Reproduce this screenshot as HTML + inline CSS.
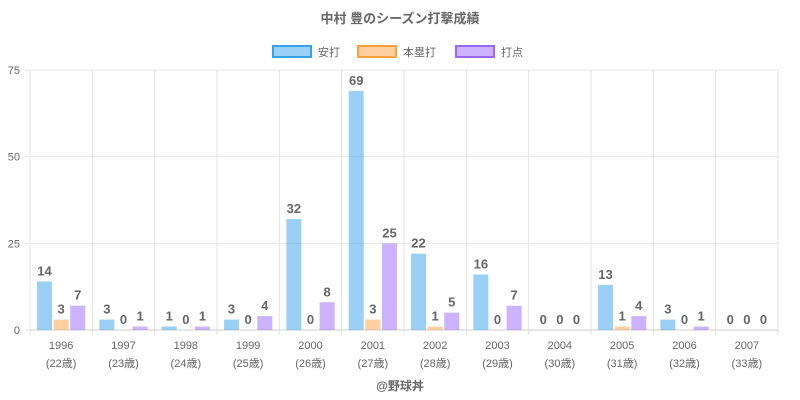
<!DOCTYPE html>
<html><head><meta charset="utf-8"><style>
body{margin:0;background:#fff;}
svg{display:block;font-family:"Liberation Sans","Noto Sans CJK JP",sans-serif;}
</style></head><body>
<svg id="c" width="800" height="400" xmlns="http://www.w3.org/2000/svg"></svg>
<script>
const s=document.getElementById('c');
let h='';
h+='<text x="400" y="23" text-anchor="middle" font-size="13" font-weight="bold" fill="#666">中村 豊のシーズン打撃成績</text>';
const leg=[['安打','rgba(54,162,235,0.5)','rgb(54,162,235)',272],['本塁打','rgba(255,159,64,0.5)','rgb(255,159,64)',357],['打点','rgba(153,102,255,0.5)','rgb(153,102,255)',455]];
leg.forEach(l=>{h+=`<rect x="${l[3]+1}" y="46" width="38" height="11" fill="${l[1]}" stroke="${l[2]}" stroke-width="2"/><text x="${l[3]+46}" y="56" font-size="11" fill="#666">${l[0]}</text>`;});
const L=30,R=778,T=70,B=330,n=12,w=(R-L)/n,u=(B-T)/75;
for(let i=0;i<=3;i++){const y=B-i*25*u;h+=`<line x1="${L-5}" x2="${R}" y1="${y}" y2="${y}" stroke="#e5e5e5"/><text x="${L-10}" y="${y+4}" text-anchor="end" font-size="11" fill="#666">${i*25}</text>`;}
for(let i=0;i<=n;i++){const x=L+i*w;h+=`<line x1="${x}" x2="${x}" y1="${T}" y2="${B+5}" stroke="#e5e5e5"/>`;}
h+=`<line x1="${L}" x2="${R}" y1="${B}" y2="${B}" stroke="#ccc"/>`;
const d=[[14,3,7],[3,0,1],[1,0,1],[3,0,4],[32,0,8],[69,3,25],[22,1,5],[16,0,7],[0,0,0],[13,1,4],[3,0,1],[0,0,0]];
const cols=['rgba(54,162,235,0.5)','rgba(255,159,64,0.5)','rgba(153,102,255,0.5)'];
for(let i=0;i<n;i++){
 const x0=L+i*w, cw=w*0.8/3;
 for(let j=0;j<3;j++){
  const cx=x0+w*0.1+cw*(j+0.5), bw=cw*0.9, v=d[i][j], bh=v*u;
  if(v>0)h+=`<rect x="${cx-bw/2}" y="${B-bh}" width="${bw}" height="${bh}" fill="${cols[j]}"/>`;
  h+=`<text x="${cx}" y="${B-bh-6}" text-anchor="middle" font-size="13" font-weight="bold" fill="#666">${v}</text>`;
 }
 const cx=x0+w/2;
 h+=`<text x="${cx}" y="349" text-anchor="middle" font-size="11" fill="#666">${1996+i}</text><text x="${cx}" y="367" text-anchor="middle" font-size="11" fill="#666">(${22+i}歳)</text>`;
}
h+='<text x="400" y="390" text-anchor="middle" font-size="12" font-weight="bold" fill="#666">@野球丼</text>';
s.innerHTML=h;
</script>
</body></html>
